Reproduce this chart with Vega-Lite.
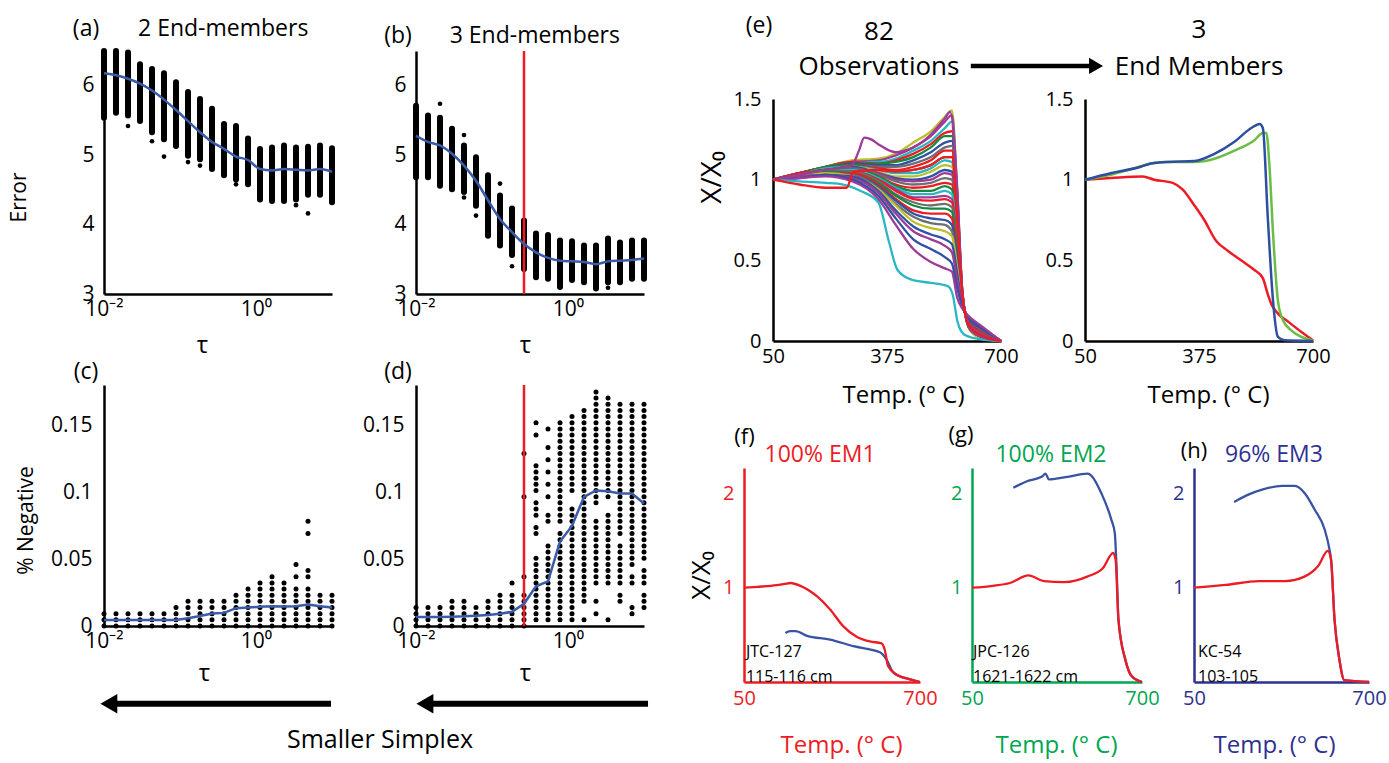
{
"$schema": "https://vega.github.io/schema/vega-lite/v6.json",
"padding": {"left": 0, "top": 5, "right": 0, "bottom": 8},
"background": "white",
"config": {
 "font": "Open Sans",
 "view": {"stroke": null},
 "axis": {"domainColor": "black", "domainWidth": 2.5, "ticks": false, "grid": false, "labelColor": "black", "titleColor": "black", "labelFontSize": 21, "titleFontSize": 22, "titleFontWeight": "normal", "labelPadding": 5, "labelFlush": false, "labelOverlap": false},
 "axisY": {"labelPadding": 10},
 "text": {"color": "black"}
},
"datasets": {
 "bandA": [{"tau":0.01,"lo":5.54,"hi":6.5},{"tau":0.01438,"lo":5.61,"hi":6.5},{"tau":0.02069,"lo":5.57,"hi":6.48},{"tau":0.02976,"lo":5.49,"hi":6.31},{"tau":0.04281,"lo":5.33,"hi":6.24},{"tau":0.06158,"lo":5.23,"hi":6.18},{"tau":0.08859,"lo":5.13,"hi":6.05},{"tau":0.1274,"lo":4.99,"hi":5.91},{"tau":0.1833,"lo":4.94,"hi":5.81},{"tau":0.2637,"lo":4.8,"hi":5.67},{"tau":0.3793,"lo":4.71,"hi":5.45},{"tau":0.5456,"lo":4.65,"hi":5.42},{"tau":0.7848,"lo":4.58,"hi":5.24},{"tau":1.129,"lo":4.36,"hi":5.09},{"tau":1.624,"lo":4.34,"hi":5.11},{"tau":2.336,"lo":4.34,"hi":5.14},{"tau":3.36,"lo":4.36,"hi":5.11},{"tau":4.833,"lo":4.43,"hi":5.12},{"tau":6.952,"lo":4.43,"hi":5.14},{"tau":10,"lo":4.32,"hi":5.1}],
 "outA": [{"tau":0.02069,"v":5.42},{"tau":0.04281,"v":5.2},{"tau":0.06158,"v":4.98},{"tau":0.1274,"v":4.9},{"tau":0.1833,"v":4.85},{"tau":0.5456,"v":4.58},{"tau":3.36,"v":4.28},{"tau":4.833,"v":4.16}],
 "lineA": [{"tau":0.01,"v":6.18},{"tau":0.01438,"v":6.15},{"tau":0.02069,"v":6.1},{"tau":0.02976,"v":6.03},{"tau":0.04281,"v":5.93},{"tau":0.06158,"v":5.8},{"tau":0.08859,"v":5.65},{"tau":0.1274,"v":5.49},{"tau":0.1833,"v":5.33},{"tau":0.2637,"v":5.19},{"tau":0.3793,"v":5.09},{"tau":0.5456,"v":4.98},{"tau":0.7848,"v":4.93},{"tau":1.129,"v":4.8},{"tau":1.624,"v":4.78},{"tau":2.336,"v":4.8},{"tau":3.36,"v":4.79},{"tau":4.833,"v":4.78},{"tau":6.952,"v":4.8},{"tau":10,"v":4.76}],
 "bandB": [{"tau":0.01,"lo":4.68,"hi":5.71},{"tau":0.01438,"lo":4.68,"hi":5.57},{"tau":0.02069,"lo":4.56,"hi":5.54},{"tau":0.02976,"lo":4.51,"hi":5.38},{"tau":0.04281,"lo":4.47,"hi":5.14},{"tau":0.06158,"lo":4.27,"hi":4.97},{"tau":0.08859,"lo":3.84,"hi":4.71},{"tau":0.1274,"lo":3.7,"hi":4.42},{"tau":0.1833,"lo":3.56,"hi":4.23},{"tau":0.2637,"lo":3.36,"hi":4.06},{"tau":0.3793,"lo":3.24,"hi":3.87},{"tau":0.5456,"lo":3.22,"hi":3.85},{"tau":0.7848,"lo":3.1,"hi":3.77},{"tau":1.129,"lo":3.2,"hi":3.76},{"tau":1.624,"lo":3.17,"hi":3.7},{"tau":2.336,"lo":3.08,"hi":3.7},{"tau":3.36,"lo":3.17,"hi":3.8},{"tau":4.833,"lo":3.17,"hi":3.74},{"tau":6.952,"lo":3.22,"hi":3.77},{"tau":10,"lo":3.22,"hi":3.77}],
 "outB": [{"tau":0.02069,"v":5.74},{"tau":0.04281,"v":5.29},{"tau":0.04281,"v":4.39},{"tau":0.06158,"v":4.13},{"tau":0.1274,"v":4.59},{"tau":0.1833,"v":3.4},{"tau":3.36,"v":3.09}],
 "lineB": [{"tau":0.01,"v":5.28},{"tau":0.01438,"v":5.19},{"tau":0.02069,"v":5.14},{"tau":0.02976,"v":5.02},{"tau":0.04281,"v":4.85},{"tau":0.06158,"v":4.63},{"tau":0.08859,"v":4.35},{"tau":0.1274,"v":4.08},{"tau":0.1833,"v":3.89},{"tau":0.2637,"v":3.72},{"tau":0.3793,"v":3.6},{"tau":0.5456,"v":3.52},{"tau":0.7848,"v":3.48},{"tau":1.129,"v":3.47},{"tau":1.624,"v":3.46},{"tau":2.336,"v":3.43},{"tau":3.36,"v":3.47},{"tau":4.833,"v":3.48},{"tau":6.952,"v":3.49},{"tau":10,"v":3.51}],
 "negC": [
  {"tau":0.01,"v":[0,0.0046,0.0092]},{"tau":0.01438,"v":[0,0.0046,0.0092]},{"tau":0.02069,"v":[0,0.0046,0.0092]},{"tau":0.02976,"v":[0,0.0046,0.0092]},{"tau":0.04281,"v":[0,0.0046,0.0092]},{"tau":0.06158,"v":[0,0.0046,0.0092]},
  {"tau":0.08859,"v":[0,0.0046,0.0092,0.0138]},
  {"tau":0.1274,"v":[0,0.0046,0.0092,0.0138,0.0184]},{"tau":0.1833,"v":[0,0.0046,0.0092,0.0138,0.0184]},{"tau":0.2637,"v":[0,0.0046,0.0092,0.0138,0.0184]},{"tau":0.3793,"v":[0,0.0046,0.0092,0.0138,0.0184]},
  {"tau":0.5456,"v":[0,0.0046,0.0092,0.0138,0.0184,0.023]},
  {"tau":0.7848,"v":[0,0.0046,0.0092,0.0138,0.0184,0.023,0.0276]},
  {"tau":1.129,"v":[0,0.0046,0.0092,0.0138,0.0184,0.023,0.0276,0.0322]},
  {"tau":1.624,"v":[0,0.0046,0.0092,0.0138,0.0184,0.023,0.0276,0.0322,0.0368]},
  {"tau":2.336,"v":[0,0.0046,0.0092,0.0138,0.0184,0.023,0.0276,0.0322]},
  {"tau":3.36,"v":[0,0.0046,0.0092,0.0138,0.0184,0.023,0.0276,0.0368,0.046]},
  {"tau":4.833,"v":[0,0.0046,0.0092,0.0138,0.0184,0.023,0.0276,0.0368,0.0414,0.069,0.0782]},
  {"tau":6.952,"v":[0,0.0046,0.0092,0.0138,0.0184,0.023]},
  {"tau":10,"v":[0,0.0046,0.0092,0.0138,0.0184,0.023]}],
 "lineC": [{"tau":0.01,"v":0.0045},{"tau":0.01438,"v":0.0045},{"tau":0.02069,"v":0.0045},{"tau":0.02976,"v":0.0045},{"tau":0.04281,"v":0.0045},{"tau":0.06158,"v":0.0045},{"tau":0.08859,"v":0.0045},{"tau":0.1274,"v":0.0058},{"tau":0.1833,"v":0.0075},{"tau":0.2637,"v":0.0093},{"tau":0.3793,"v":0.0098},{"tau":0.5456,"v":0.0133},{"tau":0.7848,"v":0.0138},{"tau":1.129,"v":0.0143},{"tau":1.624,"v":0.0148},{"tau":2.336,"v":0.0145},{"tau":3.36,"v":0.0148},{"tau":4.833,"v":0.016},{"tau":6.952,"v":0.0148},{"tau":10,"v":0.0138}],
 "negD": [
  {"tau":0.01,"v":[0,0.0046,0.0092,0.0138]},{"tau":0.01438,"v":[0,0.0046,0.0092,0.0138]},{"tau":0.02069,"v":[0,0.0046,0.0092,0.0138]},
  {"tau":0.02976,"v":[0,0.0046,0.0092,0.0138,0.0184]},{"tau":0.04281,"v":[0,0.0046,0.0092,0.0138,0.0184]},
  {"tau":0.06158,"v":[0,0.0046,0.0092,0.0138]},
  {"tau":0.08859,"v":[0,0.0046,0.0092,0.0138,0.0184]},
  {"tau":0.1274,"v":[0,0.0046,0.0092,0.0138,0.0184,0.023]},
  {"tau":0.1833,"v":[0,0.0046,0.0092,0.0138,0.0184,0.023,0.0322]},
  {"tau":0.2637,"v":[0,0.0046,0.0092,0.0138,0.0184,0.023,0.0368,0.0966,0.1288]},
  {"tau":0.3793,"v":[0.0046,0.0092,0.0138,0.0184,0.023,0.0276,0.0322,0.0368,0.0414,0.046,0.0506,0.069,0.0736,0.0828,0.0874,0.092,0.1012,0.1058,0.1104,0.115,0.1196,0.1426,0.1518]},
  {"tau":0.5456,"v":[0.0046,0.0092,0.0138,0.0184,0.023,0.0276,0.0322,0.0368,0.0414,0.046,0.0506,0.0552,0.0598,0.0782,0.0828,0.0966,0.1058,0.115,0.1242,0.1334,0.1472]},
  {"tau":0.7848,"v":[0.0046,0.0092,0.0138,0.0184,0.023,0.0276,0.0322,0.0368,0.0414,0.046,0.0506,0.0552,0.0598,0.0644,0.069,0.0782,0.0828,0.0874,0.092,0.0966,0.1012,0.1058,0.1104,0.115,0.1196,0.1242,0.1288,0.1334,0.138,0.1426,0.1472,0.1518]},
  {"tau":1.129,"v":[0.0046,0.0092,0.0138,0.0184,0.023,0.0276,0.0322,0.0368,0.0414,0.046,0.0506,0.0552,0.0598,0.0644,0.069,0.0736,0.0782,0.0828,0.0874,0.1012,0.1058,0.1104,0.115,0.1196,0.1242,0.1288,0.1334,0.138,0.1426,0.1472,0.1518,0.1564]},
  {"tau":1.624,"v":[0.0046,0.0184,0.023,0.0276,0.0322,0.0368,0.0414,0.046,0.0506,0.0552,0.0598,0.0644,0.069,0.0736,0.0782,0.0828,0.0874,0.092,0.0966,0.1012,0.1058,0.1104,0.115,0.1196,0.1242,0.1288,0.1334,0.138,0.1426,0.1472,0.1518,0.1564,0.161]},
  {"tau":2.336,"v":[0.0092,0.0184,0.0322,0.0368,0.0414,0.046,0.0506,0.0552,0.0598,0.0644,0.069,0.0736,0.0782,0.092,0.0966,0.1012,0.1058,0.1104,0.115,0.1196,0.1242,0.1288,0.1334,0.138,0.1426,0.1472,0.1518,0.1564,0.161,0.1656,0.1702,0.1748]},
  {"tau":3.36,"v":[0.0046,0.0322,0.0368,0.0414,0.046,0.0506,0.0552,0.0598,0.0644,0.069,0.0736,0.0782,0.0828,0.0966,0.1012,0.1058,0.1104,0.115,0.1196,0.1242,0.1288,0.1334,0.138,0.1426,0.1472,0.1518,0.1564,0.161,0.1656,0.1702]},
  {"tau":4.833,"v":[0.0184,0.023,0.0322,0.0368,0.0414,0.046,0.0506,0.0552,0.0598,0.069,0.0736,0.0782,0.0828,0.0874,0.092,0.0966,0.1012,0.1058,0.1104,0.115,0.1196,0.1242,0.1288,0.1334,0.138,0.1426,0.1472,0.1518,0.1564,0.161,0.1656]},
  {"tau":6.952,"v":[0.0092,0.0138,0.0322,0.0368,0.046,0.0506,0.0552,0.0598,0.0644,0.069,0.0736,0.0782,0.0828,0.0874,0.092,0.0966,0.1012,0.1058,0.1104,0.115,0.1196,0.1242,0.1288,0.1334,0.138,0.1426,0.1472,0.1518,0.1564,0.161,0.1656]},
  {"tau":10,"v":[0.0138,0.0184,0.023,0.0322,0.0368,0.0414,0.0506,0.0552,0.0598,0.0644,0.069,0.0736,0.0782,0.0828,0.0874,0.092,0.0966,0.1012,0.1058,0.1104,0.115,0.1196,0.1242,0.1288,0.1334,0.138,0.1426,0.1472,0.1518,0.1564,0.161,0.1656]}],
 "lineD": [{"tau":0.01,"v":0.0067},{"tau":0.01438,"v":0.0067},{"tau":0.02069,"v":0.0067},{"tau":0.02976,"v":0.0069},{"tau":0.04281,"v":0.0072},{"tau":0.06158,"v":0.0077},{"tau":0.08859,"v":0.0082},{"tau":0.1274,"v":0.0092},{"tau":0.1833,"v":0.0106},{"tau":0.2637,"v":0.0166},{"tau":0.3793,"v":0.0297},{"tau":0.5456,"v":0.0334},{"tau":0.7848,"v":0.0631},{"tau":1.129,"v":0.0747},{"tau":1.624,"v":0.0965},{"tau":2.336,"v":0.1012},{"tau":3.36,"v":0.1007},{"tau":4.833,"v":0.0989},{"tau":6.952,"v":0.0989},{"tau":10,"v":0.0915}],
 "obs": [
  {"id":1,"s":"s6","T":[50,125,200,275,350,400,450,500,540,560,575,590,610,640,700],"v":[1.00,1.04,1.08,1.12,1.13,1.16,1.23,1.30,1.39,1.43,0.95,0.31,0.07,0.02,0]},
  {"id":2,"s":"s5","T":[50,125,200,275,350,400,450,500,540,560,575,590,610,640,700],"v":[1.00,1.04,1.08,1.11,1.12,1.15,1.20,1.27,1.36,1.40,0.93,0.30,0.08,0.03,0]},
  {"id":3,"s":"s4","T":[50,125,200,275,350,400,450,500,540,560,575,590,610,640,700],"v":[1.00,1.04,1.08,1.11,1.11,1.13,1.18,1.24,1.32,1.36,0.90,0.30,0.08,0.03,0]},
  {"id":4,"s":"s3","T":[50,125,200,275,350,400,450,500,540,560,575,590,610,640,700],"v":[1.00,1.04,1.08,1.11,1.10,1.12,1.16,1.22,1.29,1.30,0.88,0.30,0.08,0.03,0]},
  {"id":5,"s":"s2","T":[50,125,200,275,350,400,450,500,540,560,575,590,610,640,700],"v":[1.00,1.04,1.08,1.10,1.10,1.11,1.14,1.20,1.27,1.27,0.86,0.29,0.08,0.03,0]},
  {"id":6,"s":"s1","T":[50,125,200,275,350,400,450,500,540,560,575,590,610,640,700],"v":[1.00,1.04,1.07,1.10,1.09,1.09,1.12,1.17,1.23,1.24,0.84,0.29,0.09,0.04,0]},
  {"id":7,"s":"s7","T":[50,125,200,275,350,400,450,500,540,560,575,590,610,640,700],"v":[1.00,1.04,1.07,1.09,1.08,1.08,1.10,1.14,1.20,1.21,0.82,0.29,0.09,0.04,0]},
  {"id":8,"s":"s3","T":[50,125,200,275,350,400,450,500,540,560,575,590,610,640,700],"v":[1.00,1.04,1.07,1.09,1.07,1.06,1.08,1.12,1.18,1.18,0.80,0.28,0.09,0.04,0]},
  {"id":9,"s":"s2","T":[50,125,200,275,350,400,450,500,540,560,575,590,610,640,700],"v":[1.00,1.03,1.07,1.09,1.06,1.05,1.06,1.09,1.14,1.14,0.77,0.28,0.09,0.04,0]},
  {"id":10,"s":"s4","T":[50,125,200,275,350,400,450,500,540,560,575,590,610,640,700],"v":[1.00,1.03,1.07,1.08,1.06,1.04,1.04,1.07,1.12,1.11,0.76,0.28,0.10,0.05,0]},
  {"id":11,"s":"s6","T":[50,125,200,275,350,400,450,500,540,560,575,590,610,640,700],"v":[1.00,1.03,1.06,1.08,1.05,1.02,1.02,1.05,1.09,1.08,0.74,0.27,0.10,0.05,0]},
  {"id":12,"s":"s1","T":[50,125,200,275,350,400,450,500,540,560,575,590,610,640,700],"v":[1.00,1.03,1.06,1.08,1.04,1.01,1.00,1.02,1.06,1.05,0.72,0.27,0.10,0.05,0]},
  {"id":13,"s":"s5","T":[50,125,200,275,350,400,450,500,540,560,575,590,610,640,700],"v":[1.00,1.03,1.06,1.07,1.04,1.00,0.99,1.00,1.04,1.03,0.70,0.27,0.10,0.05,0]},
  {"id":14,"s":"s7","T":[50,125,200,275,350,400,450,500,540,560,575,590,610,640,700],"v":[1.00,1.03,1.06,1.07,1.03,0.99,0.97,0.98,1.01,1.00,0.68,0.27,0.11,0.06,0]},
  {"id":15,"s":"s3","T":[50,125,200,275,350,400,450,500,540,560,575,590,610,640,700],"v":[1.00,1.03,1.06,1.06,1.02,0.97,0.95,0.96,0.98,0.97,0.66,0.26,0.11,0.06,0]},
  {"id":16,"s":"s2","T":[50,125,200,275,350,400,450,500,540,560,575,590,610,640,700],"v":[1.00,1.03,1.06,1.06,1.02,0.96,0.93,0.93,0.96,0.94,0.64,0.26,0.11,0.06,0]},
  {"id":17,"s":"s4","T":[50,125,200,275,350,400,450,500,540,560,575,590,610,640,700],"v":[1.00,1.03,1.05,1.06,1.01,0.95,0.91,0.91,0.93,0.91,0.62,0.26,0.11,0.06,0]},
  {"id":18,"s":"s5","T":[50,125,200,275,350,400,450,500,540,560,575,590,610,640,700],"v":[1.00,1.03,1.05,1.05,1.00,0.94,0.89,0.89,0.90,0.88,0.60,0.25,0.11,0.06,0]},
  {"id":19,"s":"s3","T":[50,125,200,275,350,400,450,500,540,560,575,590,610,640,700],"v":[1.00,1.03,1.05,1.05,1.00,0.93,0.88,0.87,0.88,0.86,0.59,0.25,0.12,0.07,0]},
  {"id":20,"s":"s7","T":[50,125,200,275,350,400,450,500,540,560,575,590,610,640,700],"v":[1.00,1.02,1.05,1.05,0.99,0.91,0.86,0.84,0.85,0.83,0.57,0.25,0.12,0.07,0]},
  {"id":21,"s":"s2","T":[50,125,200,275,350,400,450,500,540,560,575,590,610,640,700],"v":[1.00,1.02,1.05,1.04,0.98,0.90,0.84,0.82,0.82,0.80,0.55,0.24,0.12,0.07,0]},
  {"id":22,"s":"s3","T":[50,125,200,275,350,400,450,500,540,560,575,590,610,640,700],"v":[1.00,1.02,1.04,1.04,0.97,0.88,0.81,0.79,0.79,0.76,0.52,0.24,0.12,0.07,0]},
  {"id":23,"s":"s1","T":[50,125,200,275,350,400,450,500,540,560,575,590,610,640,700],"v":[1.00,1.02,1.04,1.03,0.96,0.87,0.79,0.76,0.75,0.72,0.50,0.24,0.13,0.08,0]},
  {"id":24,"s":"s7","T":[50,125,200,275,350,400,450,500,540,560,575,590,610,640,700],"v":[1.00,1.02,1.04,1.03,0.95,0.85,0.77,0.73,0.72,0.68,0.47,0.23,0.13,0.08,0]},
  {"id":25,"s":"s6","T":[50,125,200,275,350,400,450,500,540,560,575,590,610,640,700],"v":[1.00,1.02,1.04,1.02,0.94,0.84,0.74,0.70,0.68,0.65,0.45,0.23,0.13,0.08,0]},
  {"id":26,"s":"s1","T":[50,125,200,275,350,400,450,500,540,560,575,590,610,640,700],"v":[1.00,1.02,1.03,1.02,0.93,0.81,0.71,0.66,0.63,0.60,0.42,0.22,0.13,0.08,0]},
  {"id":27,"s":"s5","T":[50,125,200,275,350,400,450,500,540,560,575,590,610,640,700],"v":[1.00,1.02,1.03,1.01,0.92,0.79,0.68,0.63,0.59,0.55,0.38,0.22,0.14,0.09,0]},
  {"id":28,"s":"s1","T":[50,125,200,275,350,400,450,500,540,560,575,590,610,640,700],"v":[1.00,1.01,1.03,1.00,0.90,0.76,0.63,0.57,0.52,0.48,0.33,0.21,0.14,0.09,0]},
  {"id":29,"s":"s5","T":[50,125,200,275,350,400,450,500,540,560,575,590,610,640,700],"v":[1.00,1.01,1.02,0.99,0.88,0.72,0.57,0.49,0.45,0.43,0.27,0.20,0.15,0.10,0]},
  {"id":30,"s":"s4","T":[50,125,200,250,300,350,380,405,445,500,548,562,576,595,620,700],"v":[1.00,0.99,0.98,0.97,0.93,0.86,0.62,0.44,0.38,0.36,0.34,0.29,0.12,0.04,0.02,0]},
  {"id":31,"s":"s5","T":[50,125,200,275,295,310,330,350,400,450,500,540,555,575,590,610,640,700],"v":[1.00,1.03,1.06,1.09,1.18,1.26,1.25,1.22,1.17,1.20,1.28,1.38,1.42,0.95,0.30,0.08,0.03,0]},
  {"id":32,"s":"s3","T":[50,125,200,260,280,350,400,450,500,540,560,575,590,610,640,700],"v":[1.00,0.97,0.95,0.95,1.05,1.06,1.05,1.06,1.09,1.14,1.14,0.77,0.28,0.09,0.04,0]}],
 "em1": [{"T":[50,123,214,247,300,328,362,390,424,457,495,533,557,571,581,600,629,667,700],"v":[1.0,1.01,1.02,1.0,0.98,0.94,0.84,0.75,0.62,0.56,0.5,0.44,0.39,0.29,0.23,0.17,0.12,0.056,0.004]}],
 "em2": [{"T":[50,123,190,238,285,362,419,476,533,557,567,576,586,600,614,638,700],"v":[1.0,1.03,1.07,1.1,1.11,1.11,1.13,1.18,1.245,1.29,1.29,1.08,0.67,0.25,0.13,0.066,0.004]}],
 "em3": [{"T":[50,123,209,238,285,362,419,476,524,548,557,571,586,600,619,700],"v":[1.0,1.04,1.08,1.1,1.11,1.115,1.16,1.235,1.32,1.345,1.32,0.77,0.25,0.025,0.004,0]}],
 "fObs": [{"T":[203,220,240,283,368,454,552,576,601,626,660,699],"v":[0.52,0.54,0.54,0.49,0.45,0.38,0.315,0.24,0.1,0.06,0.03,0.0]}],
 "fPred": [{"T":[50,100,150,200,221,258,319,368,417,466,515,558,570,582,613,660,699],"v":[1.0,1.01,1.02,1.04,1.05,1.02,0.91,0.77,0.59,0.48,0.43,0.41,0.34,0.17,0.08,0.03,0.0]}],
 "gObs": [{"T":[208,260,318,331,344,402,493,506,545,583,596,603,610,636,661,700],"v":[2.06,2.13,2.18,2.21,2.15,2.17,2.21,2.19,2.0,1.72,1.58,1.19,0.66,0.24,0.06,0]}],
 "gPred": [{"T":[50,130,195,266,325,402,493,551,590,599,610,636,661,700],"v":[1.0,1.02,1.05,1.13,1.07,1.06,1.12,1.21,1.37,1.3,0.66,0.24,0.06,0]}],
 "hObs": [{"T":[199,254,303,376,425,462,498,535,553,559,572,590,608,700],"v":[1.91,1.99,2.04,2.08,2.08,2.0,1.83,1.62,1.41,1.3,0.66,0.24,0.02,0]}],
 "hPred": [{"T":[50,169,291,388,462,511,547,559,572,590,608,700],"v":[1.0,1.03,1.07,1.07,1.12,1.23,1.39,1.3,0.66,0.24,0.02,0]}]
},
"spacing": 30,
"hconcat": [
 {"spacing": 11, "vconcat": [
  {"width": 1, "height": 1, "data": {"values": [{}]}, "mark": {"type": "point", "opacity": 0, "size": 1}},
  {"spacing": 3, "vconcat": [
  {"bounds": "flush", "spacing": 84, "hconcat": [
   {"width": 20, "height": 1, "data": {"values": [{}]}, "mark": {"type": "point", "opacity": 0, "size": 1}},
   {"width": 228, "height": 243, "layer": [
    {"data": {"name": "bandA"}, "mark": {"type": "rule", "color": "black", "strokeWidth": 6, "strokeCap": "round"},
     "encoding": {"x": {"field": "tau", "type": "quantitative", "scale": {"type": "log", "domain": [0.01, 10], "nice": false}, "axis": {"title": "τ", "values": [0.01, 1], "labelExpr": "datum.value < 0.1 ? '10⁻²' : '10⁰'", "labelPadding": 4, "labelDx": -5, "titlePadding": 14, "titleFontSize": 24, "titleX": 98}},
      "y": {"field": "lo", "type": "quantitative", "scale": {"domain": [3, 6.5], "nice": false, "zero": false}, "axis": {"title": "Error", "values": [3, 4, 5, 6], "format": "~g", "titleFontSize": 21, "titleAngle": 270, "titleX": -75, "titleY": 146}},
      "y2": {"field": "hi"}}},
    {"data": {"name": "outA"}, "mark": {"type": "circle", "color": "black", "size": 22, "opacity": 1}, "encoding": {"x": {"field": "tau", "type": "quantitative"}, "y": {"field": "v", "type": "quantitative"}}},
    {"data": {"name": "lineA"}, "mark": {"type": "line", "color": "#3A5BA7", "strokeWidth": 2.5, "interpolate": "monotone"}, "encoding": {"x": {"field": "tau", "type": "quantitative"}, "y": {"field": "v", "type": "quantitative"}}},
    {"data": {"values": [{}]}, "mark": {"type": "text", "fontSize": 23, "align": "center", "baseline": "middle"}, "encoding": {"x": {"datum": 0.0058}, "y": {"datum": 6.82}, "text": {"value": "(a)"}}},
    {"data": {"values": [{}]}, "mark": {"type": "text", "fontSize": 23, "align": "center", "baseline": "middle"}, "encoding": {"x": {"datum": 0.37}, "y": {"datum": 6.82}, "text": {"value": "2 End-members"}}}
   ]},
   {"width": 228, "height": 243, "layer": [
    {"data": {"name": "bandB"}, "mark": {"type": "rule", "color": "black", "strokeWidth": 6, "strokeCap": "round"},
     "encoding": {"x": {"field": "tau", "type": "quantitative", "scale": {"type": "log", "domain": [0.01, 10], "nice": false}, "axis": {"title": "τ", "values": [0.01, 1], "labelExpr": "datum.value < 0.1 ? '10⁻²' : '10⁰'", "labelPadding": 4, "labelDx": -5, "titlePadding": 14, "titleFontSize": 24, "titleX": 109}},
      "y": {"field": "lo", "type": "quantitative", "scale": {"domain": [3, 6.5], "nice": false, "zero": false}, "axis": {"title": null, "values": [3, 4, 5, 6], "format": "~g"}},
      "y2": {"field": "hi"}}},
    {"data": {"name": "outB"}, "mark": {"type": "circle", "color": "black", "size": 22, "opacity": 1}, "encoding": {"x": {"field": "tau", "type": "quantitative"}, "y": {"field": "v", "type": "quantitative"}}},
    {"data": {"values": [{}]}, "mark": {"type": "rule", "color": "#ED1C24", "strokeWidth": 2.5}, "encoding": {"x": {"datum": 0.2637}}},
    {"data": {"name": "lineB"}, "mark": {"type": "line", "color": "#3A5BA7", "strokeWidth": 2.5, "interpolate": "monotone"}, "encoding": {"x": {"field": "tau", "type": "quantitative"}, "y": {"field": "v", "type": "quantitative"}}},
    {"data": {"values": [{}]}, "mark": {"type": "text", "fontSize": 23, "align": "center", "baseline": "middle"}, "encoding": {"x": {"datum": 0.0058}, "y": {"datum": 6.72}, "text": {"value": "(b)"}}},
    {"data": {"values": [{}]}, "mark": {"type": "text", "fontSize": 23, "align": "center", "baseline": "middle"}, "encoding": {"x": {"datum": 0.366}, "y": {"datum": 6.72}, "text": {"value": "3 End-members"}}}
   ]}
  ]},
  {"bounds": "flush", "spacing": 84, "hconcat": [
   {"width": 20, "height": 1, "data": {"values": [{}]}, "mark": {"type": "point", "opacity": 0, "size": 1}},
   {"width": 228, "height": 241, "layer": [
    {"data": {"name": "negC"}, "transform": [{"flatten": ["v"]}], "mark": {"type": "circle", "color": "black", "size": 25, "opacity": 1},
     "encoding": {"x": {"field": "tau", "type": "quantitative", "scale": {"type": "log", "domain": [0.01, 10], "nice": false}, "axis": {"title": "τ", "values": [0.01, 1], "labelExpr": "datum.value < 0.1 ? '10⁻²' : '10⁰'", "labelPadding": 4, "labelDx": -5, "titlePadding": 10, "titleFontSize": 24, "titleX": 100}},
      "y": {"field": "v", "type": "quantitative", "scale": {"domain": [0, 0.18], "nice": false}, "axis": {"title": "% Negative", "values": [0, 0.05, 0.1, 0.15], "format": "~g", "labelPadding": 12, "titleFontSize": 21, "titleAngle": 270, "titleX": -68, "titleY": 135}}}},
    {"data": {"name": "lineC"}, "mark": {"type": "line", "color": "#3A5BA7", "strokeWidth": 2.5}, "encoding": {"x": {"field": "tau", "type": "quantitative"}, "y": {"field": "v", "type": "quantitative"}}},
    {"data": {"values": [{}]}, "mark": {"type": "text", "fontSize": 23, "align": "center", "baseline": "middle"}, "encoding": {"x": {"datum": 0.0058}, "y": {"datum": 0.19}, "text": {"value": "(c)"}}},
    {"data": {"values": [{}]}, "mark": {"type": "rule", "color": "black", "strokeWidth": 6}, "encoding": {"x": {"datum": 0.0116}, "x2": {"datum": 9.7}, "y": {"datum": -0.058}}},
    {"data": {"values": [{}]}, "mark": {"type": "point", "shape": "triangle-left", "filled": true, "color": "black", "size": 380, "opacity": 1}, "encoding": {"x": {"datum": 0.0116}, "y": {"datum": -0.058}}}
   ]},
   {"width": 228, "height": 241, "layer": [
    {"data": {"name": "negD"}, "transform": [{"flatten": ["v"]}], "mark": {"type": "circle", "color": "black", "size": 25, "opacity": 1},
     "encoding": {"x": {"field": "tau", "type": "quantitative", "scale": {"type": "log", "domain": [0.01, 10], "nice": false}, "axis": {"title": "τ", "values": [0.01, 1], "labelExpr": "datum.value < 0.1 ? '10⁻²' : '10⁰'", "labelPadding": 4, "labelDx": -5, "titlePadding": 10, "titleFontSize": 24, "titleX": 109}},
      "y": {"field": "v", "type": "quantitative", "scale": {"domain": [0, 0.18], "nice": false}, "axis": {"title": null, "values": [0, 0.05, 0.1, 0.15], "format": "~g", "labelPadding": 12}}}},
    {"data": {"values": [{}]}, "mark": {"type": "rule", "color": "#ED1C24", "strokeWidth": 2.5}, "encoding": {"x": {"datum": 0.2637}}},
    {"data": {"name": "lineD"}, "mark": {"type": "line", "color": "#3A5BA7", "strokeWidth": 2.5}, "encoding": {"x": {"field": "tau", "type": "quantitative"}, "y": {"field": "v", "type": "quantitative"}}},
    {"data": {"values": [{}]}, "mark": {"type": "text", "fontSize": 23, "align": "center", "baseline": "middle"}, "encoding": {"x": {"datum": 0.0058}, "y": {"datum": 0.19}, "text": {"value": "(d)"}}},
    {"data": {"values": [{}]}, "mark": {"type": "rule", "color": "black", "strokeWidth": 6}, "encoding": {"x": {"datum": 0.0131}, "x2": {"datum": 11.3}, "y": {"datum": -0.058}}},
    {"data": {"values": [{}]}, "mark": {"type": "point", "shape": "triangle-left", "filled": true, "color": "black", "size": 380, "opacity": 1}, "encoding": {"x": {"datum": 0.0131}, "y": {"datum": -0.058}}},
    {"data": {"values": [{}]}, "mark": {"type": "text", "fontSize": 25, "align": "center", "baseline": "middle"}, "encoding": {"x": {"datum": 0.00336}, "y": {"datum": -0.0851}, "text": {"value": "Smaller Simplex"}}}
   ]}
  ]}
  ]}
 ]},
 {"spacing": 9, "vconcat": [
  {"width": 1, "height": 1, "data": {"values": [{}]}, "mark": {"type": "point", "opacity": 0, "size": 1}},
  {"spacing": 17, "vconcat": [
  {"bounds": "flush", "spacing": 84, "hconcat": [
   {"width": 7, "height": 1, "data": {"values": [{}]}, "mark": {"type": "point", "opacity": 0, "size": 1}},
   {"width": 228, "height": 242, "layer": [
    {"data": {"name": "obs"}, "transform": [{"flatten": ["T", "v"]}], "mark": {"type": "line", "strokeWidth": 2.3, "interpolate": "monotone"},
     "encoding": {"x": {"field": "T", "type": "quantitative", "scale": {"domain": [50, 700], "nice": false, "zero": false}, "axis": {"title": "Temp. (° C)", "values": [50, 375, 700], "labelFontSize": 20, "titleFontSize": 24, "titlePadding": 17, "titleX": 130}},
      "y": {"field": "v", "type": "quantitative", "scale": {"domain": [0, 1.5], "nice": false}, "axis": {"title": "X/X₀", "values": [0, 0.5, 1, 1.5], "format": "~g", "labelFontSize": 20, "titleFontSize": 28, "labelPadding": 12, "titleAngle": 270, "titleX": -47, "titleY": 78}},
      "color": {"field": "s", "type": "nominal", "scale": {"domain": ["s1", "s2", "s3", "s4", "s5", "s6", "s7"], "range": ["#2F52A4", "#128A3E", "#ED1C24", "#2AB7C3", "#9E3B96", "#BDBE2C", "#6D6E70"]}, "legend": null},
      "detail": {"field": "id", "type": "nominal"}}},
    {"data": {"values": [{}]}, "mark": {"type": "rule", "color": "black", "strokeWidth": 4.5}, "encoding": {"x": {"datum": 614}, "x2": {"datum": 968}, "y": {"datum": 1.705}}},
    {"data": {"values": [{}]}, "mark": {"type": "point", "shape": "triangle-right", "filled": true, "color": "black", "size": 260, "opacity": 1}, "encoding": {"x": {"datum": 971}, "y": {"datum": 1.705}}},
    {"data": {"values": [{}]}, "mark": {"type": "text", "fontSize": 23, "align": "center", "baseline": "middle"}, "encoding": {"x": {"datum": 10}, "y": {"datum": 1.952}, "text": {"value": "(e)"}}},
    {"data": {"values": [{}]}, "mark": {"type": "text", "fontSize": 26, "align": "center", "baseline": "middle"}, "encoding": {"x": {"datum": 352}, "y": {"datum": 1.915}, "text": {"value": "82"}}},
    {"data": {"values": [{}]}, "mark": {"type": "text", "fontSize": 26, "align": "center", "baseline": "middle"}, "encoding": {"x": {"datum": 352}, "y": {"datum": 1.698}, "text": {"value": "Observations"}}}
   ]},
   {"width": 228, "height": 242, "layer": [
    {"data": {"name": "em1"}, "transform": [{"flatten": ["T", "v"]}], "mark": {"type": "line", "color": "#ED1C24", "strokeWidth": 2.5, "interpolate": "monotone"},
     "encoding": {"x": {"field": "T", "type": "quantitative", "scale": {"domain": [50, 700], "nice": false, "zero": false}, "axis": {"title": "Temp. (° C)", "values": [50, 375, 700], "labelFontSize": 20, "titleFontSize": 24, "titlePadding": 17, "titleX": 123}},
      "y": {"field": "v", "type": "quantitative", "scale": {"domain": [0, 1.5], "nice": false}, "axis": {"title": null, "values": [0, 0.5, 1, 1.5], "format": "~g", "labelFontSize": 20, "labelPadding": 12}}}},
    {"data": {"name": "em2"}, "transform": [{"flatten": ["T", "v"]}], "mark": {"type": "line", "color": "#6ABD45", "strokeWidth": 2.5, "interpolate": "monotone"}, "encoding": {"x": {"field": "T", "type": "quantitative"}, "y": {"field": "v", "type": "quantitative"}}},
    {"data": {"name": "em3"}, "transform": [{"flatten": ["T", "v"]}], "mark": {"type": "line", "color": "#2E4FA0", "strokeWidth": 2.5, "interpolate": "monotone"}, "encoding": {"x": {"field": "T", "type": "quantitative"}, "y": {"field": "v", "type": "quantitative"}}},
    {"data": {"values": [{}]}, "mark": {"type": "text", "fontSize": 26, "align": "center", "baseline": "middle"}, "encoding": {"x": {"datum": 375}, "y": {"datum": 1.93}, "text": {"value": "3"}}},
    {"data": {"values": [{}]}, "mark": {"type": "text", "fontSize": 26, "align": "center", "baseline": "middle"}, "encoding": {"x": {"datum": 375}, "y": {"datum": 1.698}, "text": {"value": "End Members"}}}
   ]}
  ]},
  {"bounds": "flush", "spacing": 52, "hconcat": [
   {"width": 10, "height": 1, "data": {"values": [{}]}, "mark": {"type": "point", "opacity": 0, "size": 1}},
   {"width": 176, "height": 214, "layer": [
    {"data": {"name": "fObs"}, "transform": [{"flatten": ["T", "v"]}], "mark": {"type": "line", "color": "#3853A4", "strokeWidth": 2.3, "interpolate": "monotone"},
     "encoding": {"x": {"field": "T", "type": "quantitative", "scale": {"domain": [50, 700], "nice": false, "zero": false}, "axis": {"title": "Temp. (° C)", "values": [50, 700], "labelFontSize": 20, "titleFontSize": 24, "labelPadding": 6, "titlePadding": 25, "titleX": 97, "domainColor": "#ED1C24", "labelColor": "#ED1C24", "titleColor": "#ED1C24"}},
      "y": {"field": "v", "type": "quantitative", "scale": {"domain": [0, 2.27], "nice": false}, "axis": {"title": "X/X₀", "values": [1, 2], "format": "~g", "labelFontSize": 20, "titleFontSize": 26, "labelPadding": 10, "titleAngle": 270, "titleX": -30, "domainColor": "#ED1C24", "labelColor": "#ED1C24", "titleColor": "black"}}}},
    {"data": {"name": "fPred"}, "transform": [{"flatten": ["T", "v"]}], "mark": {"type": "line", "color": "#ED1C24", "strokeWidth": 2.3, "interpolate": "monotone"}, "encoding": {"x": {"field": "T", "type": "quantitative"}, "y": {"field": "v", "type": "quantitative"}}},
    {"data": {"values": [{}]}, "mark": {"type": "text", "fontSize": 22, "align": "center", "baseline": "middle"}, "encoding": {"x": {"datum": 52}, "y": {"datum": 2.6}, "text": {"value": "(f)"}}},
    {"data": {"values": [{}]}, "mark": {"type": "text", "fontSize": 23, "align": "center", "baseline": "middle", "color": "#ED1C24"}, "encoding": {"x": {"datum": 331}, "y": {"datum": 2.41}, "text": {"value": "100% EM1"}}},
    {"data": {"values": [{}]}, "mark": {"type": "text", "fontSize": 16, "align": "left", "baseline": "middle"}, "encoding": {"x": {"datum": 57}, "y": {"datum": 0.318}, "text": {"value": "JTC-127"}}},
    {"data": {"values": [{}]}, "mark": {"type": "text", "fontSize": 16, "align": "left", "baseline": "middle"}, "encoding": {"x": {"datum": 57}, "y": {"datum": 0.053}, "text": {"value": "115-116 cm"}}}
   ]},
   {"width": 170, "height": 214, "layer": [
    {"data": {"name": "gObs"}, "transform": [{"flatten": ["T", "v"]}], "mark": {"type": "line", "color": "#3853A4", "strokeWidth": 2.3, "interpolate": "monotone"},
     "encoding": {"x": {"field": "T", "type": "quantitative", "scale": {"domain": [50, 700], "nice": false, "zero": false}, "axis": {"title": "Temp. (° C)", "values": [50, 700], "labelFontSize": 20, "titleFontSize": 24, "labelPadding": 6, "titlePadding": 25, "titleX": 84, "domainColor": "#00A651", "labelColor": "#00A651", "titleColor": "#00A651"}},
      "y": {"field": "v", "type": "quantitative", "scale": {"domain": [0, 2.27], "nice": false}, "axis": {"title": null, "values": [1, 2], "format": "~g", "labelFontSize": 20, "labelPadding": 10, "domainColor": "#00A651", "labelColor": "#00A651"}}}},
    {"data": {"name": "gPred"}, "transform": [{"flatten": ["T", "v"]}], "mark": {"type": "line", "color": "#ED1C24", "strokeWidth": 2.3, "interpolate": "monotone"}, "encoding": {"x": {"field": "T", "type": "quantitative"}, "y": {"field": "v", "type": "quantitative"}}},
    {"data": {"values": [{}]}, "mark": {"type": "text", "fontSize": 22, "align": "center", "baseline": "middle"}, "encoding": {"x": {"datum": 8}, "y": {"datum": 2.62}, "text": {"value": "(g)"}}},
    {"data": {"values": [{}]}, "mark": {"type": "text", "fontSize": 23, "align": "center", "baseline": "middle", "color": "#00A651"}, "encoding": {"x": {"datum": 352}, "y": {"datum": 2.41}, "text": {"value": "100% EM2"}}},
    {"data": {"values": [{}]}, "mark": {"type": "text", "fontSize": 16, "align": "left", "baseline": "middle"}, "encoding": {"x": {"datum": 54}, "y": {"datum": 0.318}, "text": {"value": "JPC-126"}}},
    {"data": {"values": [{}]}, "mark": {"type": "text", "fontSize": 16, "align": "left", "baseline": "middle"}, "encoding": {"x": {"datum": 54}, "y": {"datum": 0.053}, "text": {"value": "1621-1622 cm"}}}
   ]},
   {"width": 175, "height": 214, "layer": [
    {"data": {"name": "hObs"}, "transform": [{"flatten": ["T", "v"]}], "mark": {"type": "line", "color": "#3853A4", "strokeWidth": 2.3, "interpolate": "monotone"},
     "encoding": {"x": {"field": "T", "type": "quantitative", "scale": {"domain": [50, 700], "nice": false, "zero": false}, "axis": {"title": "Temp. (° C)", "values": [50, 700], "labelFontSize": 20, "titleFontSize": 24, "labelPadding": 6, "titlePadding": 25, "titleX": 80, "domainColor": "#2E3192", "labelColor": "#2E3192", "titleColor": "#2E3192"}},
      "y": {"field": "v", "type": "quantitative", "scale": {"domain": [0, 2.27], "nice": false}, "axis": {"title": null, "values": [1, 2], "format": "~g", "labelFontSize": 20, "labelPadding": 10, "domainColor": "#2E3192", "labelColor": "#2E3192"}}}},
    {"data": {"name": "hPred"}, "transform": [{"flatten": ["T", "v"]}], "mark": {"type": "line", "color": "#ED1C24", "strokeWidth": 2.3, "interpolate": "monotone"}, "encoding": {"x": {"field": "T", "type": "quantitative"}, "y": {"field": "v", "type": "quantitative"}}},
    {"data": {"values": [{}]}, "mark": {"type": "text", "fontSize": 22, "align": "center", "baseline": "middle"}, "encoding": {"x": {"datum": 50}, "y": {"datum": 2.45}, "text": {"value": "(h)"}}},
    {"data": {"values": [{}]}, "mark": {"type": "text", "fontSize": 23, "align": "center", "baseline": "middle", "color": "#2E3192"}, "encoding": {"x": {"datum": 347}, "y": {"datum": 2.41}, "text": {"value": "96% EM3"}}},
    {"data": {"values": [{}]}, "mark": {"type": "text", "fontSize": 16, "align": "left", "baseline": "middle"}, "encoding": {"x": {"datum": 65}, "y": {"datum": 0.318}, "text": {"value": "KC-54"}}},
    {"data": {"values": [{}]}, "mark": {"type": "text", "fontSize": 16, "align": "left", "baseline": "middle"}, "encoding": {"x": {"datum": 65}, "y": {"datum": 0.053}, "text": {"value": "103-105"}}}
   ]}
  ]}
  ]}
 ]}
]
}
